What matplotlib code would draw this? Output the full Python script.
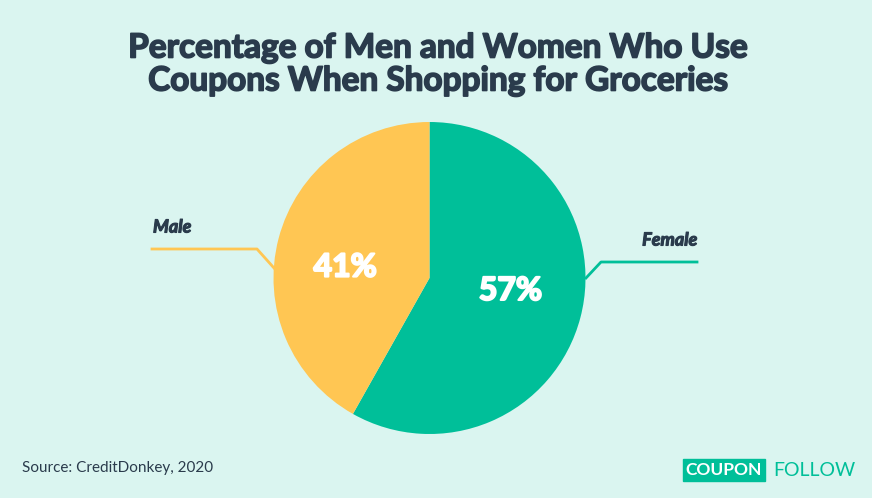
import matplotlib.pyplot as plt
import matplotlib.patheffects as pe

# data
labels = ["Female", "Male"]
values = [57, 41]
colors = ["#00BF99", "#FFC653"]
title_lines = ["Percentage of Men and Women Who Use", "Coupons When Shopping for Groceries"]
source = "Source: CreditDonkey, 2020"

BG = "#DAF5F0"
DARK = "#2A3B4C"
W, H = 872, 498

plt.rcParams['font.family'] = ['Lato', 'DejaVu Sans']


def fx(px):
    return px / W


def fy(py):
    return 1 - py / H


def heavy(c, w=1.0):
    return [pe.withStroke(linewidth=w, foreground=c)]


fig = plt.figure(figsize=(W / 100, H / 100), dpi=100, facecolor=BG)

# pie axes, placed in pixel box of the reference
left, top, right, bottom = 273, 122, 586, 434
ax = fig.add_axes([fx(left), fy(bottom), fx(right - left), (bottom - top) / H])
ax.set_facecolor(BG)
ax.pie(values, colors=colors, startangle=90, counterclock=False, radius=1,
       wedgeprops=dict(linewidth=0))
ax.set_xlim(-1, 1)
ax.set_ylim(-1, 1)
ax.set_aspect('equal')
ax.axis('off')

# percentage labels
ax.text(0.52, -0.08, f"{values[0]}%", color="white", fontsize=23,
        fontweight='bold', ha='center', va='center', path_effects=heavy("white", 1.5))
ax.text(-0.54, 0.07, f"{values[1]}%", color="white", fontsize=23,
        fontweight='bold', ha='center', va='center', path_effects=heavy("white", 1.5))

# connector lines (figure pixel coords)
def line(xs, ys, c):
    fig.add_artist(plt.Line2D([fx(x) for x in xs], [fy(y) for y in ys],
                              color=c, lw=2, transform=fig.transFigure, zorder=0))

line([152, 257, 274], [249, 249, 268], colors[1])
line([586, 601, 697], [278, 262, 262], colors[0])

fig.text(fx(153), fy(227), labels[1], color=DARK, fontsize=13,
         fontweight='bold', style='italic', ha='left', va='center',
         path_effects=heavy(DARK, 0.8))
fig.text(fx(697), fy(240), labels[0], color=DARK, fontsize=13,
         fontweight='bold', style='italic', ha='right', va='center',
         path_effects=heavy(DARK, 0.8))

for txt, y in zip(title_lines, [48, 81]):
    fig.text(fx(438), fy(y), txt, color=DARK, fontsize=24, fontweight='bold',
             ha='center', va='center', path_effects=heavy(DARK, 1.2))

fig.text(fx(22), fy(468), source, color=DARK, fontsize=11, ha='left', va='center')

# logo
fig.text(fx(724), fy(470), "COUPON", color="white", fontsize=12.5, fontweight='bold',
         ha='center', va='center',
         bbox=dict(boxstyle='square,pad=0.15', facecolor=colors[0], edgecolor=colors[0]))
fig.text(fx(773), fy(470), "FOLLOW", color=colors[0], fontsize=14,
         ha='left', va='center')

fig.savefig("out.png", dpi=100, facecolor=BG)
